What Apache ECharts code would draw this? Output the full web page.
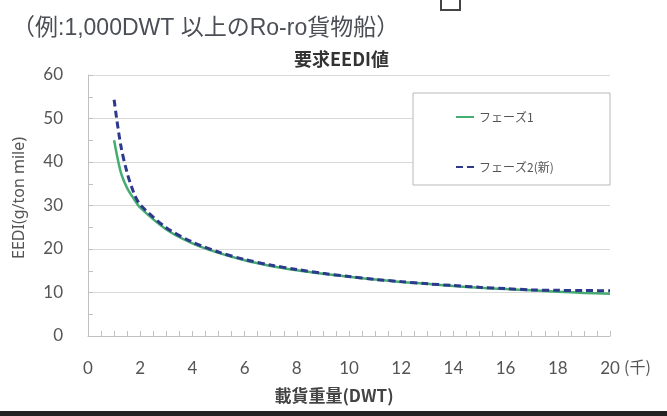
<!DOCTYPE html>
<html>
<head>
<meta charset="utf-8">
<script src="https://cdn.jsdelivr.net/npm/echarts@6/dist/echarts.min.js"></script>
<style>
html,body{margin:0;padding:0;background:#fff;}
#chart{width:667px;height:416px;}
</style>
</head>
<body>
<div id="chart"></div>
<script>
// ---- data ----
var subtitleText = '（例:1,000DWT 以上のRo-ro貨物船）';
var titleText = '要求EEDI値';
var xAxisName = '載貨重量(DWT)';
var yAxisName = 'EEDI(g/ton mile)';
var xUnitText = '(千)';
var seriesNames = ['フェーズ1', 'フェーズ2(新)'];

var phase1X = [1, 1.25, 1.5, 1.75, 2, 3, 4, 5, 6, 7, 8, 9, 10, 11, 12, 13, 14, 15, 16, 17, 18, 19, 20];
var phase1Y = [45.0, 37.8, 34.0, 31.6, 29.5, 24.5, 21.3, 19.1, 17.4, 16.1, 15.1, 14.3, 13.6, 13.0, 12.4, 12.0, 11.5, 11.1, 10.8, 10.5, 10.2, 9.9, 9.7];

var phase2X = [1, 1.25, 1.5, 1.75, 2, 3, 4, 5, 6, 7, 8, 9, 10, 11, 12, 13, 14, 15, 16, 17, 18, 19, 20];
var phase2Y = [54.3, 44.0, 37.5, 33.0, 30.2, 24.9, 21.6, 19.3, 17.6, 16.3, 15.3, 14.4, 13.7, 13.0, 12.5, 12.0, 11.6, 11.2, 10.9, 10.6, 10.5, 10.45, 10.4];

function pairs(xs, ys) {
  var out = [];
  for (var i = 0; i < xs.length; i++) out.push([xs[i], ys[i]]);
  return out;
}

var chart = echarts.init(document.getElementById('chart'), null, {renderer: 'canvas'});
var cjk = '"Noto Sans CJK JP", "Noto Sans", sans-serif';
var mixed = '"Liberation Sans", "Noto Sans CJK JP", sans-serif';
var num = 'Lato, "Noto Sans", sans-serif';

var option = {
  backgroundColor: '#ffffff',
  animation: false,
  title: [
    {
      text: subtitleText,
      left: 7, top: 12,
      textStyle: {fontFamily: mixed, fontSize: 23, fontWeight: 'normal', color: '#4b4f55'}
    },
    {
      text: titleText,
      left: 289, top: 45,
      textStyle: {fontFamily: cjk, fontSize: 18, fontWeight: 'bold', color: '#333333'}
    }
  ],
  grid: {left: 88, right: 57, top: 75, bottom: 80, containLabel: false},
  legend: {
    orient: 'vertical',
    left: 455, top: 111,
    itemGap: 38,
    itemWidth: 18, itemHeight: 14,
    padding: 0,
    data: seriesNames,
    itemStyle: {opacity: 0},
    textStyle: {fontFamily: cjk, fontSize: 12, color: '#555555'},
    z: 10
  },
  xAxis: {
    type: 'value',
    min: 0, max: 20, interval: 2,
    axisLine: {show: true, lineStyle: {color: '#c0c0c0', width: 1}},
    axisTick: {show: true, inside: true, length: 5, lineStyle: {color: '#c0c0c0'}},
    minorTick: {show: true, splitNumber: 4, length: 5, lineStyle: {color: '#c0c0c0'}},
    splitLine: {show: false},
    axisLabel: {margin: 24, fontFamily: num, fontSize: 17, color: '#555555'}
  },
  yAxis: {
    type: 'value',
    min: 0, max: 60, interval: 10,
    axisLine: {show: true, lineStyle: {color: '#c0c0c0', width: 1}},
    axisTick: {show: true, inside: true, length: 5, lineStyle: {color: '#c0c0c0'}},
    minorTick: {show: true, splitNumber: 2, length: 5, lineStyle: {color: '#c0c0c0'}},
    splitLine: {show: true, lineStyle: {color: '#d9d9d9', width: 1}},
    axisLabel: {margin: 25, fontFamily: num, fontSize: 17, color: '#555555'}
  },
  series: [
    {
      name: seriesNames[0],
      type: 'line',
      data: pairs(phase1X, phase1Y),
      smooth: 0.3,
      symbol: 'none',
      lineStyle: {color: '#45ad72', width: 2.5},
      itemStyle: {color: '#45ad72'},
      z: 3
    },
    {
      name: seriesNames[1],
      type: 'line',
      data: pairs(phase2X, phase2Y),
      smooth: 0.3,
      symbol: 'none',
      lineStyle: {color: '#2d3a8c', width: 3, type: [7, 4]},
      itemStyle: {color: '#2d3a8c'},
      z: 4
    }
  ],
  graphic: [
    {
      type: 'rect', z: 5,
      shape: {x: 413, y: 93, width: 197, height: 92},
      style: {fill: '#ffffff', stroke: '#b8b8b8', lineWidth: 1}
    },
    {
      type: 'text', z: 5,
      x: 624, y: 367,
      style: {text: xUnitText, fontFamily: cjk, fontSize: 16, fill: '#555555', textVerticalAlign: 'middle', verticalAlign: 'middle'}
    },
    {
      type: 'text', z: 5,
      x: 334, y: 396,
      style: {text: xAxisName, fontFamily: cjk, fontSize: 17, fontWeight: 'bold', fill: '#444444', align: 'center', verticalAlign: 'middle', textAlign: 'center', textVerticalAlign: 'middle'}
    },
    {
      type: 'text', z: 5,
      x: 19, y: 198,
      rotation: Math.PI / 2,
      style: {text: yAxisName, fontFamily: '"Noto Sans", sans-serif', fontSize: 16, fill: '#555555', align: 'center', verticalAlign: 'middle', textAlign: 'center', textVerticalAlign: 'middle'}
    },
    {
      type: 'rect', z: 5,
      shape: {x: 441, y: -5, width: 19, height: 15},
      style: {fill: 'none', stroke: '#444444', lineWidth: 2}
    },
    {
      type: 'rect', z: 5,
      shape: {x: 0, y: 411, width: 667, height: 5},
      style: {fill: '#222222'}
    }
  ]
};
chart.setOption(option);
</script>
</body>
</html>
